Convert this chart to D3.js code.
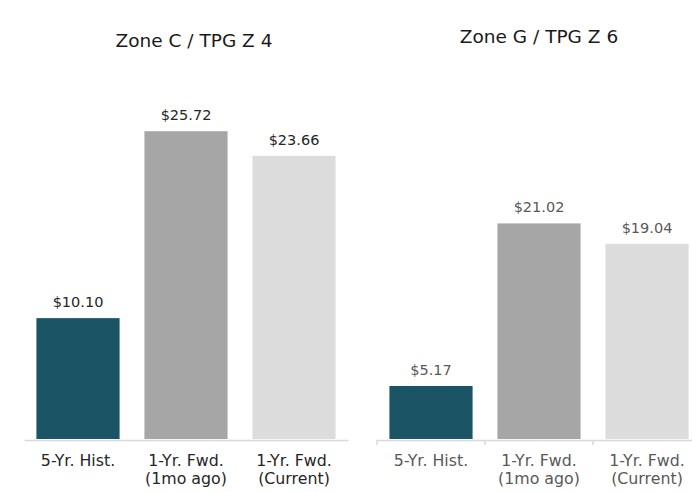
<!DOCTYPE html>
<html>
<head>
<meta charset="utf-8">
<script src="https://cdn.jsdelivr.net/npm/d3@7"></script>
<style>
  html, body { margin: 0; padding: 0; background: #fff; }
  svg { display: block; font-family: "DejaVu Sans", "Open Sans", sans-serif; }
</style>
</head>
<body>
<svg id="canvas" width="692" height="492"></svg>
<script>
// ---------- data ----------
const categories = ["5-Yr. Hist.", "1-Yr. Fwd.\n(1mo ago)", "1-Yr. Fwd.\n(Current)"];
const zoneCValues = [10.10, 25.72, 23.66];
const zoneGValues = [5.17, 21.02, 19.04];
const panelTitles = ["Zone C / TPG Z 4", "Zone G / TPG Z 6"];
const barColors = ["#1b5464", "#a6a6a6", "#dcdcdc"];

// ---------- layout per panel ----------
const panels = [
  { title: panelTitles[0], values: zoneCValues, x0: 24, x1: 348, yMax: 30, titleX: 194, titleY: 47,
    textColor: "#262626", ticks: false },
  { title: panelTitles[1], values: zoneGValues, x0: 377, x1: 701, yMax: 35, titleX: 539, titleY: 43,
    textColor: "#595959", ticks: true }
];

const svg = d3.select("#canvas");
const baseY = 439, topY = 80;

panels.forEach(p => {
  const g = svg.append("g");

  const x = d3.scaleBand()
    .domain(categories)
    .range([p.x0, p.x1])
    .paddingInner(0.23)
    .paddingOuter(0.115);

  const y = d3.scaleLinear()
    .domain([0, p.yMax])
    .range([baseY, topY]);

  // title
  g.append("text")
    .attr("x", p.titleX)
    .attr("y", p.titleY)
    .attr("text-anchor", "middle")
    .attr("font-size", 18.5)
    .attr("fill", "#1a1a1a")
    .text(p.title);

  // bars
  g.selectAll("rect")
    .data(p.values)
    .join("rect")
    .attr("x", (d, i) => x(categories[i]))
    .attr("width", x.bandwidth())
    .attr("y", d => y(d))
    .attr("height", d => baseY - y(d))
    .attr("fill", (d, i) => barColors[i]);

  // value labels
  g.selectAll(".val")
    .data(p.values)
    .join("text")
    .attr("class", "val")
    .attr("x", (d, i) => x(categories[i]) + x.bandwidth() / 2)
    .attr("y", d => y(d) - 11)
    .attr("text-anchor", "middle")
    .attr("font-size", 14.5)
    .attr("fill", p.textColor)
    .text(d => "$" + d3.format(".2f")(d));

  // axis
  const axis = g.append("g")
    .attr("transform", `translate(0,${baseY + 1})`)
    .call(d3.axisBottom(x).tickSize(0).tickFormat(""));
  axis.select(".domain").attr("stroke", "#d9d9d9").attr("stroke-width", 1.5);

  if (p.ticks) {
    const step = x.step();
    const bounds = d3.range(categories.length + 1).map(i => p.x0 + i * step);
    axis.selectAll(".bound")
      .data(bounds)
      .join("line")
      .attr("class", "bound")
      .attr("x1", d => d).attr("x2", d => d)
      .attr("y1", 0).attr("y2", 5)
      .attr("stroke", "#d9d9d9").attr("stroke-width", 1.5);
  }

  // category labels
  const lbl = g.selectAll(".cat")
    .data(categories)
    .join("text")
    .attr("class", "cat")
    .attr("x", d => x(d) + x.bandwidth() / 2)
    .attr("y", 466)
    .attr("text-anchor", "middle")
    .attr("font-size", 15.8)
    .attr("fill", p.textColor);
  lbl.selectAll("tspan")
    .data(d => d.split("\n"))
    .join("tspan")
    .attr("x", function () { return d3.select(this.parentNode).attr("x"); })
    .attr("dy", (d, i) => i === 0 ? 0 : 18)
    .text(d => d);
});
</script>
</body>
</html>
